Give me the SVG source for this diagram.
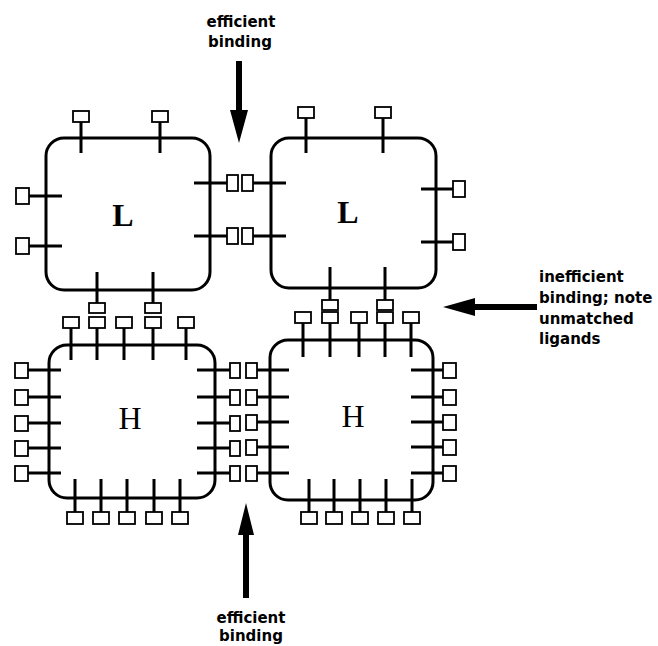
<svg xmlns="http://www.w3.org/2000/svg" width="658" height="646" viewBox="0 0 658 646">
<style>
.box{fill:none;stroke:#000;stroke-width:3}
.st{stroke:#000;stroke-width:3;fill:none}
.sq{fill:#fff;stroke:#000;stroke-width:1.8}
.big{font-family:"Liberation Serif","Times New Roman",serif;font-size:32px;fill:#000;text-anchor:middle}
.lab{font-family:"DejaVu Sans",sans-serif;font-weight:bold;font-size:15px;fill:#000}
.shaft{stroke:#000;stroke-width:6;fill:none}
</style>
<rect width="658" height="646" fill="#fff"/>

<g id="L1">
<rect class="box" x="46" y="138" width="164" height="152" rx="18"/>
<path class="st" d="M81 153V122M160 153V122M62 196H29M62 246H29M194 183H227M194 236H227M97 272V303M153 272V303"/>
<rect class="sq" x="73" y="111" width="16" height="11"/>
<rect class="sq" x="152" y="111" width="16" height="11"/>
<rect class="sq" x="16" y="188" width="13" height="16"/>
<rect class="sq" x="16" y="238" width="13" height="16"/>
<rect class="sq" x="227" y="175" width="11" height="16"/>
<rect class="sq" x="227" y="228" width="11" height="16"/>
<rect class="sq" x="89" y="303" width="16" height="10"/>
<rect class="sq" x="145" y="303" width="16" height="10"/>
<text class="big" x="123" y="226" font-weight="bold">L</text>
</g>

<g id="L2">
<rect class="box" x="271" y="138" width="165" height="150" rx="18"/>
<path class="st" d="M306 153V118M383 153V118M286 183H253M286 236H253M421 189H453M421 242H453M330 267V300M385 267V300"/>
<rect class="sq" x="298" y="107" width="16" height="11"/>
<rect class="sq" x="375" y="107" width="16" height="11"/>
<rect class="sq" x="242" y="175" width="11" height="16"/>
<rect class="sq" x="242" y="228" width="11" height="16"/>
<rect class="sq" x="453" y="181" width="12" height="16"/>
<rect class="sq" x="453" y="234" width="12" height="16"/>
<rect class="sq" x="322" y="300" width="16" height="10"/>
<rect class="sq" x="377" y="300" width="16" height="10"/>
<text class="big" x="348" y="223" font-weight="bold">L</text>
</g>

<g id="H1">
<rect class="box" x="49" y="345" width="166" height="153" rx="18"/>
<path class="st" d="M71 360V328M97 360V328M124 360V328M153 360V328M186 360V328
M61 370H28M61 397H28M61 423H28M61 448H28M61 473H28
M197 370H230M197 397H230M197 423H230M197 448H230M197 473H230
M75 479V512M101 479V512M127 479V512M154 479V512M180 479V512"/>
<rect class="sq" x="63" y="317" width="16" height="11"/>
<rect class="sq" x="89" y="317" width="16" height="11"/>
<rect class="sq" x="116" y="317" width="16" height="11"/>
<rect class="sq" x="145" y="317" width="16" height="11"/>
<rect class="sq" x="178" y="317" width="16" height="11"/>
<rect class="sq" x="15" y="363" width="13" height="15"/>
<rect class="sq" x="15" y="390" width="13" height="15"/>
<rect class="sq" x="15" y="416" width="13" height="15"/>
<rect class="sq" x="15" y="441" width="13" height="15"/>
<rect class="sq" x="15" y="466" width="13" height="15"/>
<rect class="sq" x="230" y="363" width="10" height="15"/>
<rect class="sq" x="230" y="390" width="10" height="15"/>
<rect class="sq" x="230" y="416" width="10" height="15"/>
<rect class="sq" x="230" y="441" width="10" height="15"/>
<rect class="sq" x="230" y="466" width="10" height="15"/>
<rect class="sq" x="67" y="512" width="16" height="12"/>
<rect class="sq" x="93" y="512" width="16" height="12"/>
<rect class="sq" x="119" y="512" width="16" height="12"/>
<rect class="sq" x="146" y="512" width="16" height="12"/>
<rect class="sq" x="172" y="512" width="16" height="12"/>
<text class="big" x="130" y="429">H</text>
</g>

<g id="H2">
<rect class="box" x="270" y="340" width="163" height="160" rx="18"/>
<path class="st" d="M303 357V323M330 357V323M359 357V323M385 357V323M411 357V323
M289 370H257M289 397H257M289 422H257M289 447H257M289 473H257
M411 370H443M411 397H443M411 422H443M411 447H443M411 473H443
M309 479V512M334 479V512M360 479V512M386 479V512M412 479V512"/>
<rect class="sq" x="295" y="312" width="16" height="11"/>
<rect class="sq" x="322" y="312" width="16" height="11"/>
<rect class="sq" x="351" y="312" width="16" height="11"/>
<rect class="sq" x="377" y="312" width="16" height="11"/>
<rect class="sq" x="403" y="312" width="16" height="11"/>
<rect class="sq" x="246" y="363" width="11" height="15"/>
<rect class="sq" x="246" y="390" width="11" height="15"/>
<rect class="sq" x="246" y="415" width="11" height="15"/>
<rect class="sq" x="246" y="440" width="11" height="15"/>
<rect class="sq" x="246" y="466" width="11" height="15"/>
<rect class="sq" x="443" y="363" width="13" height="15"/>
<rect class="sq" x="443" y="390" width="13" height="15"/>
<rect class="sq" x="443" y="415" width="13" height="15"/>
<rect class="sq" x="443" y="440" width="13" height="15"/>
<rect class="sq" x="443" y="466" width="13" height="15"/>
<rect class="sq" x="301" y="512" width="16" height="12"/>
<rect class="sq" x="326" y="512" width="16" height="12"/>
<rect class="sq" x="352" y="512" width="16" height="12"/>
<rect class="sq" x="378" y="512" width="16" height="12"/>
<rect class="sq" x="404" y="512" width="16" height="12"/>
<text class="big" x="353" y="427">H</text>
</g>

<g id="connectors">
<line class="shaft" x1="239" y1="61" x2="239" y2="112"/>
<polygon points="230,110 248,110 239,143" fill="#000"/>
<line class="shaft" x1="537" y1="307" x2="473" y2="307"/>
<polygon points="475,298 475,316 443,307" fill="#000"/>
<line class="shaft" x1="246" y1="598" x2="246" y2="533"/>
<polygon points="238,535 254,535 246,503" fill="#000"/>
</g>

<g id="labels">
<text class="lab" x="241" y="27" text-anchor="middle">efficient</text>
<text class="lab" x="240" y="47" text-anchor="middle">binding</text>
<text class="lab" x="539" y="282">inefficient</text>
<text class="lab" x="539" y="303">binding; note</text>
<text class="lab" x="539" y="324">unmatched</text>
<text class="lab" x="539" y="344">ligands</text>
<text class="lab" x="251" y="623" text-anchor="middle">efficient</text>
<text class="lab" x="251" y="641" text-anchor="middle">binding</text>
</g>
</svg>
